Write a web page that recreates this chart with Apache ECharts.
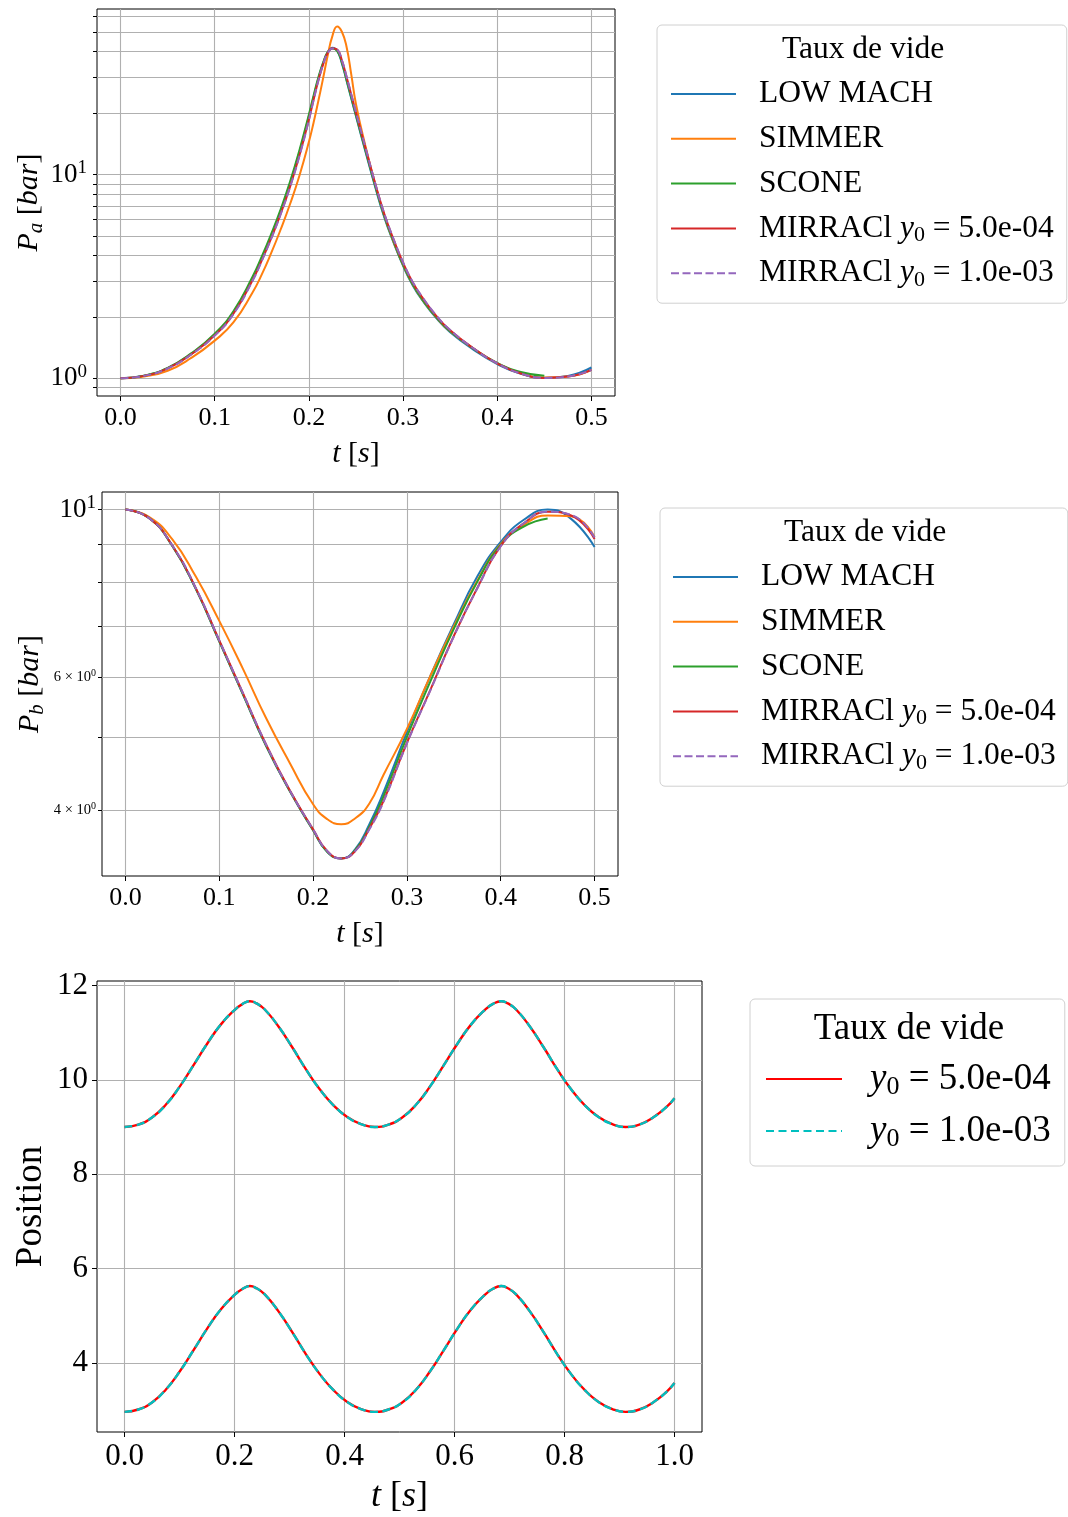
<!DOCTYPE html>
<html>
<head>
<meta charset="utf-8">
<script src="https://cdn.jsdelivr.net/npm/echarts@6.0.0/dist/echarts.min.js"></script>
<style>
html,body{margin:0;padding:0;background:#fff;}
#chart{width:1068px;height:1517px;}
</style>
</head>
<body>
<div id="chart"></div>
<script>
// ---------------- DATA ----------------
// Top panel: P_a [bar] vs t [s]
const tA = [0, 0.025, 0.05, 0.075, 0.1, 0.12, 0.14, 0.15, 0.16, 0.17, 0.18, 0.19, 0.2, 0.205, 0.21, 0.215, 0.22, 0.225, 0.23, 0.235, 0.24, 0.245, 0.25, 0.26, 0.27, 0.28, 0.29, 0.3, 0.31, 0.32, 0.335, 0.35, 0.375, 0.4, 0.425, 0.45, 0.475, 0.5];
const paLowMach = [1.0, 1.029, 1.122, 1.318, 1.641, 2.113, 3.09, 3.89, 5.01, 6.61, 9.02, 12.88, 19.28, 23.99, 29.51, 35.08, 39.81, 41.88, 40.46, 35.08, 28.84, 23.55, 19.28, 12.97, 8.81, 6.17, 4.62, 3.56, 2.87, 2.43, 1.98, 1.683, 1.380, 1.175, 1.052, 1.005, 1.028, 1.13];
const paSimmer = [1.0, 1.021, 1.089, 1.259, 1.531, 1.884, 2.63, 3.236, 4.121, 5.37, 7.16, 9.89, 14.45, 17.99, 22.91, 29.51, 38.46, 47.86, 53.2, 50.1, 42.2, 30.9, 22.1, 13.8, 9.12, 6.31, 4.65, 3.6, 2.9, 2.45, 2.0, 1.70, 1.40, 1.185, 1.06, 1.01, 1.02, 1.10];
const paScone = [1.0, 1.03, 1.125, 1.325, 1.655, 2.14, 3.14, 3.96, 5.11, 6.75, 9.22, 13.18, 19.7, 24.4, 29.9, 35.3, 39.8, 41.5, 40.4, 35.4, 29.1, 23.8, 19.5, 13.15, 8.93, 6.26, 4.68, 3.6, 2.9, 2.45, 2.0, 1.70, 1.395, 1.19, 1.075, 1.03, null, null];
const paMirr5 = [1.0, 1.028, 1.118, 1.31, 1.625, 2.08, 3.02, 3.79, 4.87, 6.41, 8.72, 12.42, 18.6, 23.3, 28.9, 34.6, 39.5, 41.6, 41.0, 36.3, 30.1, 24.6, 20.1, 13.5, 9.16, 6.41, 4.79, 3.69, 2.97, 2.51, 2.03, 1.72, 1.40, 1.185, 1.056, 1.005, 1.02, 1.10];
const paMirr10 = [1.0, 1.028, 1.117, 1.308, 1.62, 2.07, 3.0, 3.77, 4.85, 6.38, 8.68, 12.35, 18.5, 23.2, 28.8, 34.5, 39.4, 41.5, 41.0, 36.4, 30.2, 24.7, 20.2, 13.6, 9.2, 6.44, 4.81, 3.7, 2.98, 2.52, 2.04, 1.725, 1.40, 1.185, 1.056, 1.005, 1.02, 1.10];

// Middle panel: P_b [bar] vs t [s]
const tB = [0, 0.025, 0.05, 0.075, 0.1, 0.125, 0.15, 0.175, 0.2, 0.215, 0.23, 0.245, 0.26, 0.275, 0.3, 0.325, 0.35, 0.375, 0.4, 0.425, 0.45, 0.475, 0.5];
const pbLowMach = [10, 9.75, 8.95, 7.85, 6.69, 5.7, 4.86, 4.24, 3.76, 3.52, 3.45, 3.55, 3.83, 4.22, 5.07, 6.02, 7.05, 8.15, 9.06, 9.7, 10.0, 9.72, 8.92];
const pbSimmer = [10, 9.78, 9.13, 8.15, 7.12, 6.16, 5.29, 4.62, 4.07, 3.89, 3.83, 3.9, 4.08, 4.45, 5.12, 6.02, 7.0, 8.05, 9.0, 9.55, 9.82, 9.8, 9.2];
const pbScone = [10, 9.75, 8.95, 7.85, 6.69, 5.7, 4.86, 4.24, 3.76, 3.52, 3.45, 3.54, 3.8, 4.17, 5.0, 5.92, 6.95, 8.02, 8.98, 9.5, 9.73, null, null];
const pbMirr5 = [10, 9.75, 8.96, 7.87, 6.71, 5.72, 4.88, 4.25, 3.77, 3.53, 3.45, 3.53, 3.78, 4.11, 4.91, 5.77, 6.8, 7.87, 8.95, 9.6, 9.93, 9.82, 9.14];
const pbMirr10 = [10, 9.75, 8.96, 7.87, 6.71, 5.72, 4.88, 4.25, 3.77, 3.53, 3.45, 3.53, 3.77, 4.10, 4.9, 5.76, 6.79, 7.86, 8.94, 9.6, 9.93, 9.84, 9.18];

// Bottom panel: Position vs t [s]
const tC = [0, 0.025, 0.05, 0.075, 0.1, 0.125, 0.15, 0.175, 0.2, 0.215, 0.228, 0.24, 0.255, 0.28, 0.305, 0.33, 0.355, 0.38, 0.405, 0.43, 0.455, 0.48, 0.505, 0.53, 0.555, 0.58, 0.605, 0.63, 0.655, 0.67, 0.685, 0.697, 0.712, 0.737, 0.762, 0.787, 0.812, 0.837, 0.862, 0.887, 0.911, 0.936, 0.961, 0.986, 1.0];
const posUpper5 = [9.00, 9.05, 9.20, 9.47, 9.85, 10.30, 10.76, 11.17, 11.48, 11.61, 11.667, 11.62, 11.49, 11.13, 10.69, 10.22, 9.80, 9.46, 9.21, 9.06, 9.00, 9.05, 9.20, 9.47, 9.85, 10.30, 10.76, 11.17, 11.48, 11.61, 11.667, 11.62, 11.49, 11.13, 10.69, 10.22, 9.80, 9.46, 9.21, 9.06, 9.00, 9.05, 9.20, 9.43, 9.61];
const posLower5 = [2.96, 3.01, 3.16, 3.43, 3.81, 4.26, 4.72, 5.13, 5.44, 5.57, 5.627, 5.58, 5.45, 5.09, 4.65, 4.18, 3.76, 3.42, 3.17, 3.02, 2.96, 3.01, 3.16, 3.43, 3.81, 4.26, 4.72, 5.13, 5.44, 5.57, 5.627, 5.58, 5.45, 5.09, 4.65, 4.18, 3.76, 3.42, 3.17, 3.02, 2.96, 3.01, 3.16, 3.39, 3.57];
const posUpper10 = [9.00, 9.05, 9.20, 9.47, 9.85, 10.30, 10.76, 11.17, 11.48, 11.61, 11.667, 11.62, 11.49, 11.13, 10.69, 10.22, 9.80, 9.46, 9.21, 9.06, 9.00, 9.05, 9.20, 9.47, 9.85, 10.30, 10.76, 11.17, 11.48, 11.61, 11.667, 11.62, 11.49, 11.13, 10.69, 10.22, 9.80, 9.46, 9.21, 9.06, 9.00, 9.05, 9.20, 9.43, 9.61];
const posLower10 = [2.96, 3.01, 3.16, 3.43, 3.81, 4.26, 4.72, 5.13, 5.44, 5.57, 5.627, 5.58, 5.45, 5.09, 4.65, 4.18, 3.76, 3.42, 3.17, 3.02, 2.96, 3.01, 3.16, 3.43, 3.81, 4.26, 4.72, 5.13, 5.44, 5.57, 5.627, 5.58, 5.45, 5.09, 4.65, 4.18, 3.76, 3.42, 3.17, 3.02, 2.96, 3.01, 3.16, 3.39, 3.57];

// Names, ticks
const namesTop = ['LOW MACH', 'SIMMER', 'SCONE', 'MIRRACl y0 = 5.0e-04', 'MIRRACl y0 = 1.0e-03'];
const namesBottom = ['y0 = 5.0e-04', 'y0 = 1.0e-03'];
const legendTitle = 'Taux de vide';
const xTicksHalf = [0, 0.1, 0.2, 0.3, 0.4, 0.5];
const xTicksFull = [0, 0.2, 0.4, 0.6, 0.8, 1.0];
const yGridA = [0.9, 1, 2, 3, 4, 5, 6, 7, 8, 9, 10, 20, 30, 40, 50, 60];
const yLabelsA = [1, 10];
const yGridB = [4, 5, 6, 7, 8, 9, 10];
const yLabelsB = [4, 6, 10];
const yTicksC = [4, 6, 8, 10, 12];

// ---------------- STYLE ----------------
const FONT = '"Liberation Serif", "DejaVu Serif", serif';
const GRIDC = '#b0b0b0';
const COL = {blue:'#1f77b4', orange:'#ff7f0e', green:'#2ca02c', red:'#d62728', purple:'#9467bd', r:'#ff0000', c:'#00bfbf'};

function zip(t, v) {
  const out = [];
  for (let i = 0; i < t.length; i++) if (v[i] != null) out.push([t[i], v[i]]);
  return out;
}

function xAxisCfg(gi, min, max, ticks, fs, nfs, gap) {
  return {
    type: 'value', gridIndex: gi, min: min, max: max,
    axisLine: {show: false, onZero: false},
    axisTick: {show: true, length: 5, lineStyle: {color: '#000', width: 1}, customValues: ticks},
    axisLabel: {customValues: ticks, formatter: v => Number(v).toFixed(1), fontFamily: FONT, fontSize: fs, color: '#000', margin: 9},
    splitLine: {show: true, lineStyle: {color: GRIDC, width: 1.1}},
    name: '{i|t} [{i|s}]', nameLocation: 'middle', nameGap: gap, nameMoveOverlap: false,
    nameTextStyle: {fontFamily: FONT, fontSize: nfs, color: '#000',
      rich: {i: {fontFamily: FONT, fontSize: nfs, fontStyle: 'italic', color: '#000'}}}
  };
}

const supRich = {
  b: {fontFamily: FONT, fontSize: 27, lineHeight: 32, color: '#000'},
  sup: {fontFamily: FONT, fontSize: 19, lineHeight: 17, verticalAlign: 'top', color: '#000'},
  sm: {fontFamily: FONT, fontSize: 14.5, lineHeight: 17, color: '#000'},
  ssup: {fontFamily: FONT, fontSize: 10, lineHeight: 10, verticalAlign: 'top', color: '#000'}
};
function fmtLog(v) {
  const e = Math.round(Math.log10(v));
  if (Math.abs(v - Math.pow(10, e)) < 1e-6 * v) return '{b|10}{sup|' + e + '}';
  const ex = Math.floor(Math.log10(v) + 1e-9);
  const m = Math.round(v / Math.pow(10, ex));
  return '{sm|' + m + ' × 10}{ssup|' + ex + '}';
}

function yLogCfg(gi, min, max, grid, labels, gap, sub, margin) {
  return {
    type: 'log', logBase: 10, gridIndex: gi, min: min, max: max,
    axisLine: {show: false, onZero: false},
    axisTick: {show: true, length: 4, lineStyle: {color: '#000', width: 1}, customValues: grid},
    axisLabel: {customValues: labels, formatter: fmtLog, rich: supRich, fontFamily: FONT, fontSize: 27, color: '#000', margin: margin},
    splitLine: {show: true, lineStyle: {color: GRIDC, width: 1.1}},
    minorTick: {show: false}, minorSplitLine: {show: false},
    name: '{i|P}{sub|' + sub + '} [{i|bar}]', nameLocation: 'middle', nameRotate: 90, nameGap: gap, nameMoveOverlap: false,
    nameTextStyle: {fontFamily: FONT, fontSize: 30, color: '#000', lineHeight: 36,
      rich: {
        i: {fontFamily: FONT, fontSize: 30, fontStyle: 'italic', lineHeight: 36, color: '#000'},
        sub: {fontFamily: FONT, fontSize: 21, fontStyle: 'italic', lineHeight: 21, verticalAlign: 'bottom', color: '#000'}
      }}
  };
}

function legendCfg(left, top, names, fs, lh, iw, gap, pad, textPad) {
  return {
    orient: 'vertical', left: left, top: top, data: names, selectedMode: false,
    itemWidth: iw, itemHeight: 2, itemGap: gap, padding: pad,
    itemStyle: {opacity: 0},
    backgroundColor: 'rgba(255,255,255,0.8)', borderColor: '#d0d0d0', borderWidth: 1, borderRadius: 5,
    formatter: n => n.replace('y0', '{i|y}{sub|0}'),
    textStyle: {fontFamily: FONT, fontSize: fs, lineHeight: lh, color: '#000', padding: [0, 0, 0, textPad],
      rich: {
        i: {fontFamily: FONT, fontSize: fs, fontStyle: 'italic', lineHeight: lh, color: '#000'},
        sub: {fontFamily: FONT, fontSize: Math.round(fs * 0.7), lineHeight: Math.round(fs * 0.7), verticalAlign: 'bottom', color: '#000'}
      }}
  };
}

function lineSeries(name, xi, data, color, width, dash, z) {
  return {
    type: 'line', name: name, xAxisIndex: xi, yAxisIndex: xi, data: data,
    symbol: 'none', showSymbol: false, smooth: 0.5, z: z,
    lineStyle: {color: color, width: width, type: dash || 'solid'},
    itemStyle: {color: color},
    emphasis: {disabled: true}, silent: true
  };
}

const chart = echarts.init(document.getElementById('chart'), null, {renderer: 'canvas'});
const gridBase = {show: true, borderColor: '#000', borderWidth: 1, backgroundColor: 'transparent', containLabel: false, outerBoundsMode: 'none'};

const option = {
  animation: false,
  backgroundColor: '#fff',
  grid: [
    Object.assign({left: 97, top: 9, width: 518, height: 387}, gridBase),
    Object.assign({left: 102, top: 492, width: 516, height: 384}, gridBase),
    Object.assign({left: 97, top: 981, width: 605, height: 451}, gridBase)
  ],
  xAxis: [
    xAxisCfg(0, -0.025, 0.525, xTicksHalf, 26, 30, 43),
    xAxisCfg(1, -0.025, 0.525, xTicksHalf, 26, 30, 43),
    xAxisCfg(2, -0.05, 1.05, xTicksFull, 31, 36, 47)
  ],
  yAxis: [
    yLogCfg(0, 0.819, 64.8, yGridA, yLabelsA, 50, 'a', 10),
    yLogCfg(1, 3.27, 10.55, yGridB, yLabelsB, 54, 'b', 6),
    {
      type: 'value', gridIndex: 2, min: 2.533, max: 12.095,
      axisLine: {show: false, onZero: false},
      axisTick: {show: true, length: 5, lineStyle: {color: '#000', width: 1}, customValues: yTicksC},
      axisLabel: {customValues: yTicksC, formatter: v => String(v), fontFamily: FONT, fontSize: 31, color: '#000', margin: 9},
      splitLine: {show: true, lineStyle: {color: GRIDC, width: 1.1}},
      name: 'Position', nameLocation: 'middle', nameRotate: 90, nameGap: 47, nameMoveOverlap: false,
      nameTextStyle: {fontFamily: FONT, fontSize: 37, color: '#000'}
    }
  ],
  legend: [
    legendCfg(657, 25, namesTop, 31.5, 36, 65, 8.8, [51, 13, 12, 13], 18),
    legendCfg(660, 508, namesTop, 31.5, 36, 65, 8.8, [51, 12, 12, 12], 18),
    legendCfg(750, 999, namesBottom, 37, 42, 76, 10, [59, 14, 14, 15], 23)
  ],
  graphic: [
    {type: 'text', x: 863, y: 50, z: 100, style: {text: legendTitle, font: '31.5px "Liberation Serif"', fill: '#000', textAlign: 'center', textVerticalAlign: 'middle', align: 'center', verticalAlign: 'middle'}},
    {type: 'text', x: 865, y: 533, z: 100, style: {text: legendTitle, font: '31.5px "Liberation Serif"', fill: '#000', textAlign: 'center', textVerticalAlign: 'middle', align: 'center', verticalAlign: 'middle'}},
    {type: 'text', x: 909, y: 1029, z: 100, style: {text: legendTitle, font: '37px "Liberation Serif"', fill: '#000', textAlign: 'center', textVerticalAlign: 'middle', align: 'center', verticalAlign: 'middle'}}
  ],
  series: [
    lineSeries(namesTop[0], 0, zip(tA, paLowMach), COL.blue, 2, null, 2),
    lineSeries(namesTop[1], 0, zip(tA, paSimmer), COL.orange, 2, null, 2),
    lineSeries(namesTop[2], 0, zip(tA, paScone), COL.green, 2, null, 2),
    lineSeries(namesTop[3], 0, zip(tA, paMirr5), COL.red, 2, null, 2),
    lineSeries(namesTop[4], 0, zip(tA, paMirr10), COL.purple, 2, [8, 3.5], 2),

    lineSeries(namesTop[0], 1, zip(tB, pbLowMach), COL.blue, 2, null, 2),
    lineSeries(namesTop[1], 1, zip(tB, pbSimmer), COL.orange, 2, null, 2),
    lineSeries(namesTop[2], 1, zip(tB, pbScone), COL.green, 2, null, 2),
    lineSeries(namesTop[3], 1, zip(tB, pbMirr5), COL.red, 2, null, 2),
    lineSeries(namesTop[4], 1, zip(tB, pbMirr10), COL.purple, 2, [8, 3.5], 2),

    lineSeries(namesBottom[0], 2, zip(tC, posUpper5), COL.r, 2.4, null, 2),
    lineSeries(namesBottom[0], 2, zip(tC, posLower5), COL.r, 2.4, null, 2),
    lineSeries(namesBottom[1], 2, zip(tC, posUpper10), COL.c, 2.4, [8, 4.5], 3),
    lineSeries(namesBottom[1], 2, zip(tC, posLower10), COL.c, 2.4, [8, 4.5], 3)
  ]
};
chart.setOption(option);
</script>
</body>
</html>
